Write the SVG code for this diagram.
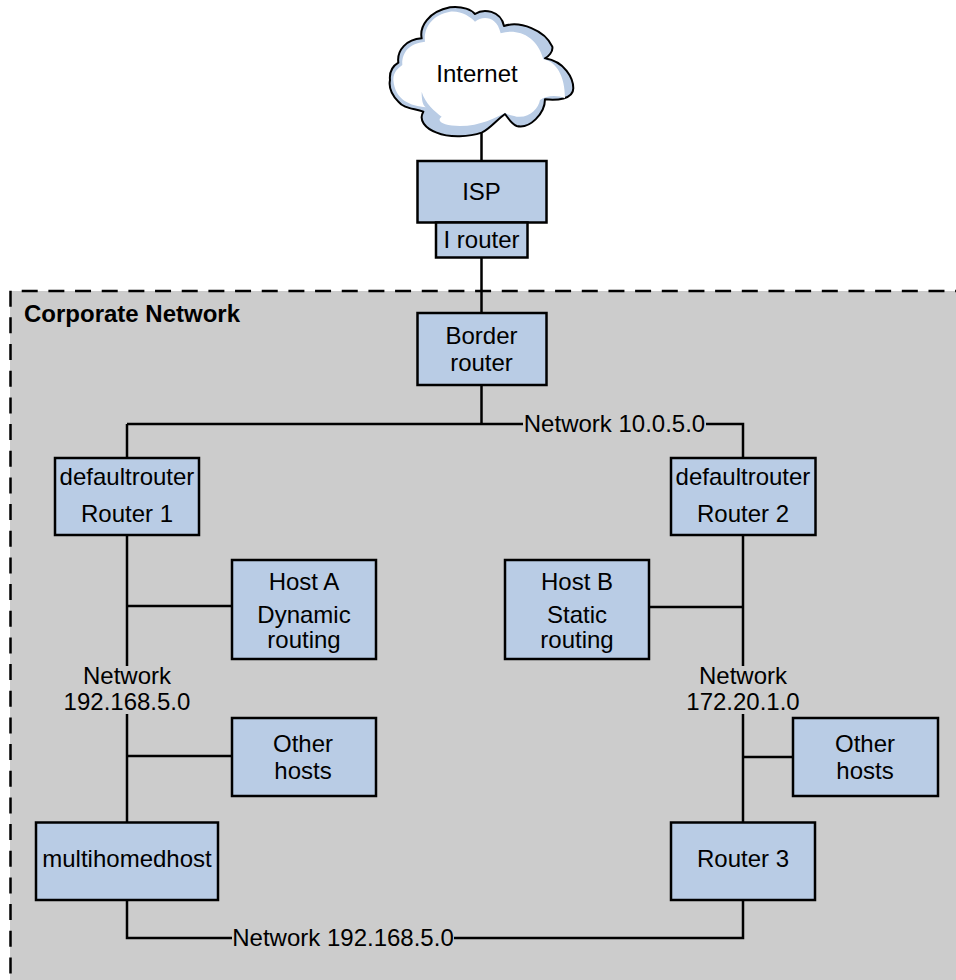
<svg xmlns="http://www.w3.org/2000/svg" width="956" height="980" viewBox="0 0 956 980">
<style>
text{font-family:"Liberation Sans",Arial,sans-serif;font-size:24px;fill:#000;text-anchor:middle}
.b{fill:#b9cce5;stroke:#000;stroke-width:2.5}
.c{fill:none;stroke:#000;stroke-width:2.5}
.d{fill:none;stroke:#000;stroke-width:2.5;stroke-dasharray:16 10.670}
</style>
<rect width="956" height="980" fill="#fff"/>
<g id="corporate-network">
<rect x="10" y="291" width="946" height="689" fill="#ccc"/>
<path class="d" d="M10.500 290.700V980"/>
<path class="d" d="M21.700 291H956"/>
<text x="24" y="322" style="font-weight:bold;text-anchor:start">Corporate Network</text>
</g>
<g id="connectors">
<path class="c" d="M481.500 130V161M481.500 257V313M481.500 385V424M127 424H523M706 424H743V458M127 424V458M127 535V666M127 606H232M127 714V822M127 756H232M127 900V938H232M454 938H743V900M743 535V666M743 607H648M743 714V822M743 757H793"/>
</g>
<g id="internet">
<g transform="translate(370 0) scale(.3333)">
<path fill="#b9cce5" stroke="#000" stroke-width="6" stroke-linejoin="round" d="M335 398C300 410 240 415 200 398C165 385 145 360 160 335C130 325 100 325 85 305C65 285 55 265 60 240C58 220 65 200 85 188C80 150 110 118 155 115C148 80 175 35 240 22C280 18 305 30 315 42C340 25 392 30 402 78C450 62 525 90 547 140C550 155 535 170 525 175C585 185 610 235 610 265C610 298 560 302 525 298C525 340 480 388 440 378C425 372 415 355 405 342C380 360 358 388 335 398Z"/>
<path fill="#fff" d="M70 240C70 215 85 205 97 195C95 160 115 130 165 125C160 85 185 45 240 35C275 32 300 50 315 65C335 48 380 45 392 100C440 85 500 105 520 178C560 185 585 230 585 295C565 285 530 285 510 300C505 325 480 355 440 350C425 347 415 345 405 338C380 352 330 378 270 378C225 378 195 365 215 350C195 335 165 310 155 275C155 305 160 320 170 322C120 318 75 300 70 240Z"/>
</g>
<text x="477" y="82">Internet</text>
</g>
<g id="isp"><rect class="b" x="417.500" y="161" width="129" height="61.500"/><text x="481.500" y="199.500">ISP</text></g>
<g id="i-router"><rect class="b" x="436" y="222.500" width="91.500" height="35"/><text x="481.500" y="248">I router</text></g>
<g id="border-router"><rect class="b" x="417.500" y="313" width="129" height="72"/><text x="481.500" y="343.500">Border</text><text x="481.500" y="370.500">router</text></g>
<g id="router-1"><rect class="b" x="55" y="458" width="144" height="77"/><text x="127" y="485">defaultrouter</text><text x="127" y="522">Router 1</text></g>
<g id="router-2"><rect class="b" x="671" y="458" width="144.500" height="77"/><text x="743" y="485">defaultrouter</text><text x="743" y="522">Router 2</text></g>
<g id="host-a"><rect class="b" x="232" y="560" width="144" height="99"/><text x="304" y="590">Host A</text><text x="304" y="623">Dynamic</text><text x="304" y="648">routing</text></g>
<g id="host-b"><rect class="b" x="505" y="560" width="144" height="99"/><text x="577" y="590">Host B</text><text x="577" y="623">Static</text><text x="577" y="648">routing</text></g>
<g id="other-hosts-1"><rect class="b" x="232" y="718" width="144" height="78"/><text x="303" y="752">Other</text><text x="303" y="779">hosts</text></g>
<g id="other-hosts-2"><rect class="b" x="793" y="718" width="145" height="78"/><text x="865" y="752">Other</text><text x="865" y="779">hosts</text></g>
<g id="multihomedhost"><rect class="b" x="36" y="822.500" width="182" height="77.500"/><text x="127" y="867">multihomedhost</text></g>
<g id="router-3"><rect class="b" x="671" y="822.500" width="144" height="77.500"/><text x="743" y="867">Router 3</text></g>
<g id="labels">
<text x="614.500" y="432">Network 10.0.5.0</text>
<text x="127" y="684">Network</text><text x="127" y="710">192.168.5.0</text>
<text x="743" y="684">Network</text><text x="743" y="710">172.20.1.0</text>
<text x="343" y="946">Network 192.168.5.0</text>
</g>
</svg>
